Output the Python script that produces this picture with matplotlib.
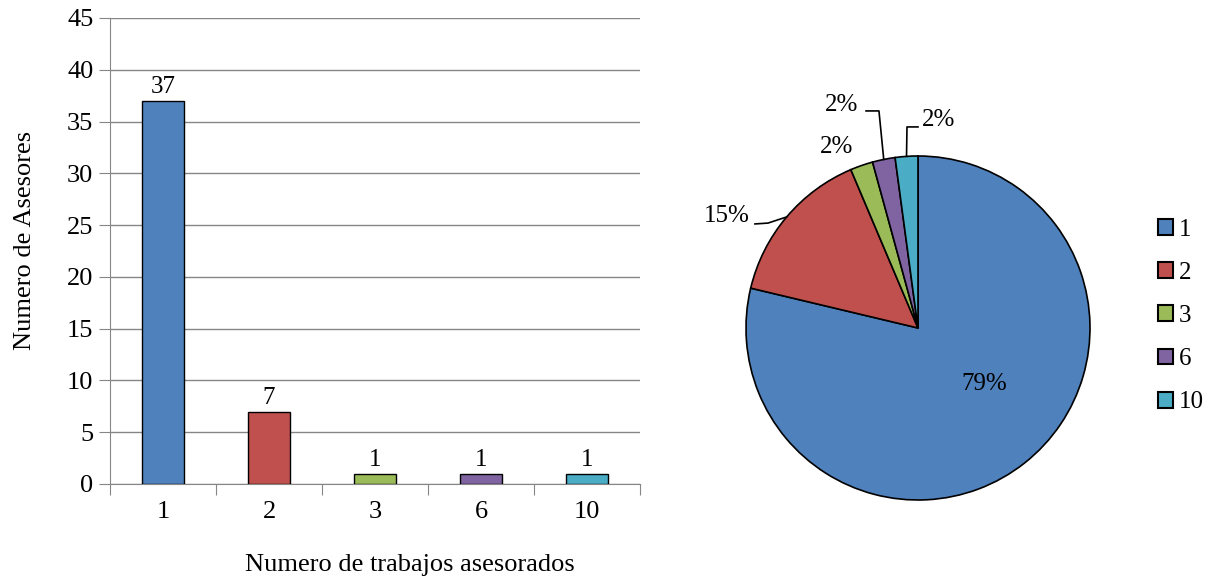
import numpy as np
import matplotlib
matplotlib.use('Agg')
import matplotlib.pyplot as plt
from matplotlib.patches import Patch

plt.rcParams['font.family'] = ['Liberation Serif', 'DejaVu Serif']

categorias = ['1', '2', '3', '6', '10']
asesores = [37, 7, 1, 1, 1]
colores = ['#4F81BD', '#C0504D', '#9BBB59', '#8064A2', '#4BACC6']
etiquetas_pct = ['79%', '15%', '2%', '2%', '2%']

W, H = 1212, 579
fs = 19     # ejes
fs2 = 18    # etiquetas de datos y leyenda
fig = plt.figure(figsize=(W / 100, H / 100), dpi=100)
gris = '#868686'

# --- barras ---
ax = fig.add_axes([110 / W, 1 - 484 / H, 530 / W, 466 / H])
x = np.arange(len(categorias))
ax.bar(x, asesores, width=0.4, color=colores, edgecolor='black', linewidth=1, zorder=3)
for xi, v in zip(x, asesores):
    ax.text(xi, v + 0.25, str(v), ha='center', va='bottom', fontsize=fs2)
ax.set_xlim(-0.5, len(categorias) - 0.5)
ax.set_ylim(0, 45)
ax.set_yticks(range(0, 46, 5))
ax.set_xticks(np.arange(-0.5, len(categorias)), labels=[''] * (len(categorias) + 1))
ax.set_xticks(x, labels=categorias, minor=True)
ax.tick_params(axis='x', which='major', direction='out', length=8, color=gris)
ax.tick_params(axis='x', which='minor', length=0, pad=12, labelsize=fs)
ax.tick_params(axis='y', direction='out', length=8, color=gris, labelsize=fs, pad=4)
ax.grid(axis='y', color=gris, linewidth=1, zorder=0)
for s in ['top', 'right']:
    ax.spines[s].set_visible(False)
for s in ['left', 'bottom']:
    ax.spines[s].set_color(gris)
fig.text(25 / W, 1 - 240 / H, 'Numero de Asesores', rotation=90, ha='center', va='center', fontsize=fs)
fig.text(410 / W, 1 - 565 / H, 'Numero de trabajos asesorados', ha='center', va='center', fontsize=fs)

# --- pastel ---
R = 172
cx, cy = 918, 328
ax2 = fig.add_axes([(cx - 1.3 * R) / W, 1 - (cy + 1.3 * R) / H, 2.6 * R / W, 2.8 * R / H])
wedges, _ = ax2.pie(asesores, colors=colores, startangle=90, counterclock=False,
                    wedgeprops=dict(edgecolor='black', linewidth=1.2))
ax2.set_xlim(-1.3, 1.3)
ax2.set_ylim(-1.3, 1.5)

def borde(w):
    ang = np.deg2rad((w.theta1 + w.theta2) / 2)
    return np.cos(ang), np.sin(ang)

ax2.text(0.384, -0.326, etiquetas_pct[0], ha='center', va='center', fontsize=fs2)

# 15%
ex, ey = borde(wedges[1])
ax2.text(-1.110, 0.651, etiquetas_pct[1], ha='center', va='center', fontsize=fs2)
ax2.plot([-0.948, -0.872, ex], [0.605, 0.610, ey], color='black', linewidth=1.2)

# 3
ax2.text(-0.471, 1.052, etiquetas_pct[2], ha='center', va='center', fontsize=fs2)

# 6
ex, ey = borde(wedges[3])
ax2.text(-0.445, 1.297, etiquetas_pct[3], ha='center', va='center', fontsize=fs2)
ax2.plot([-0.302, -0.227, ex], [1.262, 1.262, ey], color='black', linewidth=1.2, clip_on=False)

# 10
ex, ey = borde(wedges[4])
ax2.text(0.122, 1.209, etiquetas_pct[4], ha='center', va='center', fontsize=fs2)
ax2.plot([0.0, -0.064, ex], [1.169, 1.169, ey], color='black', linewidth=1.2, clip_on=False)

handles = [Patch(facecolor=c, edgecolor='black', linewidth=1.5) for c in colores]
fig.legend(handles, categorias, loc='center left', bbox_to_anchor=(1145 / W, 1 - 316 / H),
           frameon=False, fontsize=fs2, handlelength=0.6, handleheight=0.6,
           handletextpad=0.25, labelspacing=0.85, borderpad=0)

fig.savefig('out.png', dpi=100)
